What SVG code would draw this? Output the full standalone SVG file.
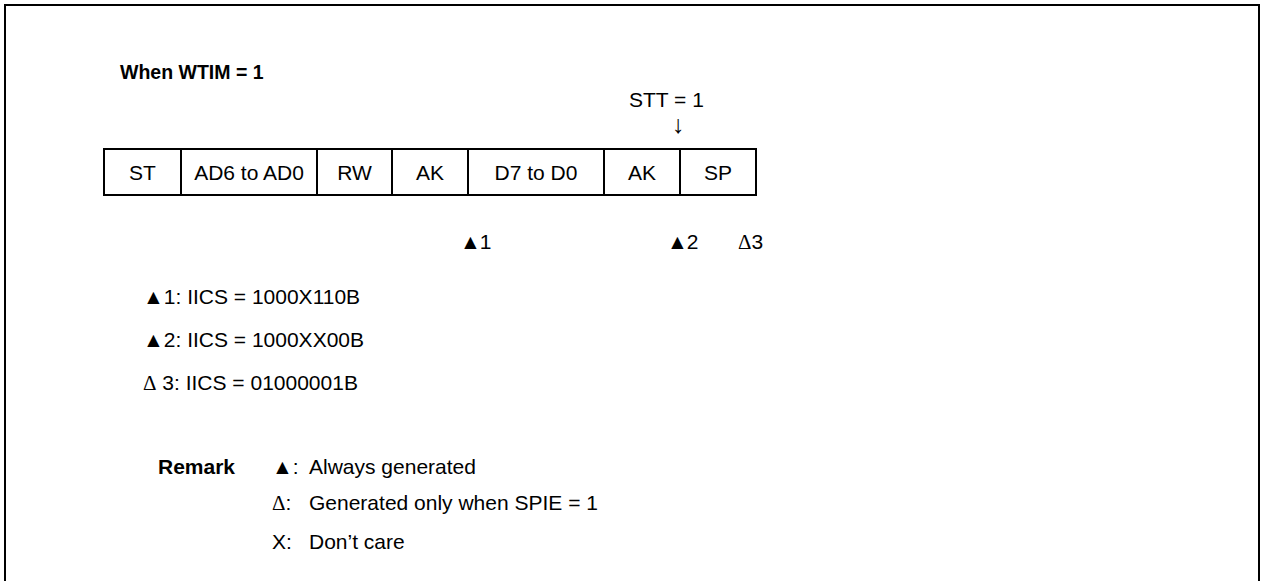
<svg xmlns="http://www.w3.org/2000/svg" width="1261" height="581" viewBox="0 0 1261 581">
<style>
text{font-family:"Liberation Sans",Arial,"DejaVu Sans",sans-serif;font-size:21px;fill:#000}
.b{font-weight:bold}
.c{text-anchor:middle}
.d{font-family:"Liberation Serif","DejaVu Serif",serif}
.cell{fill:none;stroke:#000;stroke-width:2}
</style>
<rect width="1261" height="581" fill="#fff"/>
<rect x="5" y="5" width="1254" height="700" fill="none" stroke="#000" stroke-width="2"/>
<text id="title" class="b" x="120" y="79" style="font-size:19.5px">When WTIM = 1</text>
<g id="frame">
<rect class="cell" x="104" y="149" width="652" height="46"/>
<g id="connectors" stroke="#000" stroke-width="2">
<line x1="181" y1="149" x2="181" y2="195"/>
<line x1="317" y1="149" x2="317" y2="195"/>
<line x1="392" y1="149" x2="392" y2="195"/>
<line x1="468" y1="149" x2="468" y2="195"/>
<line x1="604" y1="149" x2="604" y2="195"/>
<line x1="680" y1="149" x2="680" y2="195"/>
</g>
<g id="n-st"><text class="c" x="142.5" y="179.5">ST</text></g>
<g id="n-ad"><text class="c" x="249" y="179.5">AD6 to AD0</text></g>
<g id="n-rw"><text class="c" x="354.5" y="179.5">RW</text></g>
<g id="n-ak1"><text class="c" x="430" y="179.5">AK</text></g>
<g id="n-d"><text class="c" x="536" y="179.5">D7 to D0</text></g>
<g id="n-ak2"><text class="c" x="642" y="179.5">AK</text></g>
<g id="n-sp"><text class="c" x="718" y="179.5">SP</text></g>
</g>
<g id="stt">
<text x="629" y="106.5">STT = 1</text>
<text class="c" x="678" y="133" style="font-size:25px">↓</text>
</g>
<g id="markers">
<text x="460" y="249" style="letter-spacing:-1px">▲1</text>
<text x="667" y="249" style="letter-spacing:-1px">▲2</text>
<text x="738" y="249"><tspan class="d">Δ</tspan>3</text>
</g>
<g id="legend">
<text x="143" y="304">▲1: IICS = 1000X110B</text>
<text x="143" y="347">▲2: IICS = 1000XX00B</text>
<text x="143" y="390"><tspan class="d">Δ</tspan> 3: IICS = 01000001B</text>
</g>
<g id="remark">
<text class="b" x="158" y="474">Remark</text>
<text x="272" y="474">▲:</text>
<text x="309" y="474">Always generated</text>
<text x="272" y="510"><tspan class="d">Δ</tspan>:</text>
<text x="309" y="510">Generated only when SPIE = 1</text>
<text x="272" y="549">X:</text>
<text x="309" y="549">Don’t care</text>
</g>
</svg>
